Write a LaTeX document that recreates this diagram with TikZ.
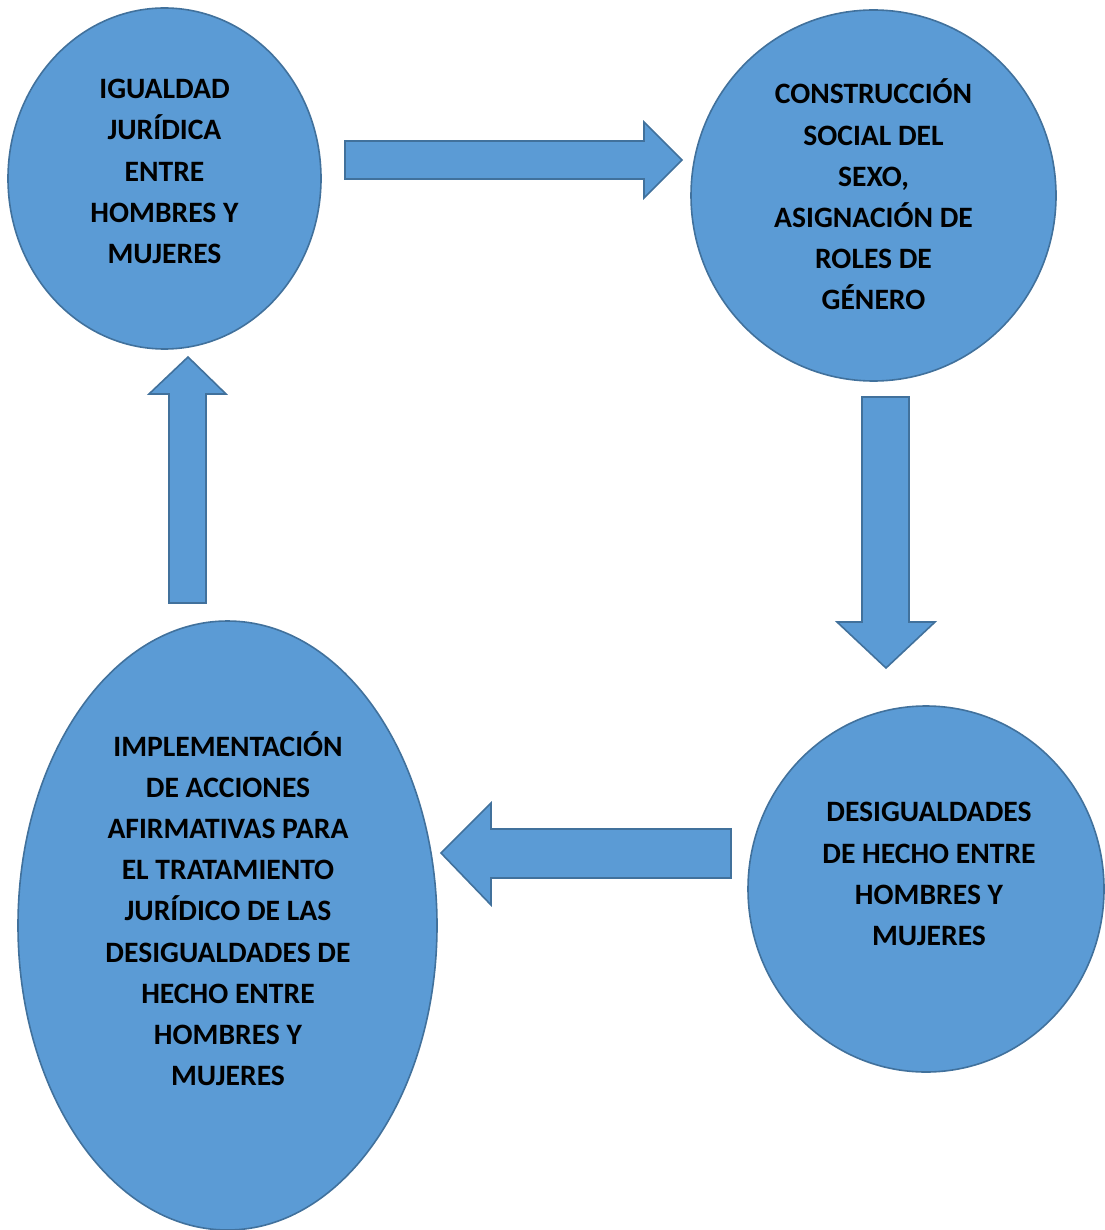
\documentclass[tikz,border=0pt]{standalone}
\usepackage{fontspec}
\setmainfont{Carlito}
\definecolor{blobfill}{HTML}{5B9BD5}
\definecolor{blobline}{HTML}{41719C}
\begin{document}
\begin{tikzpicture}[x=1pt,y=-1pt,
  blob/.style={draw=blobline,fill=blobfill,line width=1.6pt},
  blocka/.style={draw=blobline,fill=blobfill,line width=1.6pt,line join=miter},
  lbl/.style={align=center,font=\fontsize{29.6}{41.2}\selectfont\bfseries,inner sep=0pt,text=black}]
\useasboundingbox (0,0) rectangle (1104,1230);
% ellipses
\path[blob] (164.5,178.5) ellipse [x radius=156.5, y radius=170.5];
\path[blob] (873.5,195.5) ellipse [x radius=182.5, y radius=185.5];
\path[blob] (926,889) ellipse [x radius=178, y radius=183];
\path[blob] (227.5,925.5) ellipse [x radius=209.5, y radius=304.5];
% block arrows
\path[blocka] (345,141) -- (644,141) -- (644,122) -- (682,160) -- (644,198) -- (644,179) -- (345,179) -- cycle;
\path[blocka] (862,397) -- (909,397) -- (909,622) -- (935,622) -- (886,668) -- (837,622) -- (862,622) -- cycle;
\path[blocka] (731,829) -- (491,829) -- (491,803) -- (441,853) -- (491,905) -- (491,878) -- (731,878) -- cycle;
\path[blocka] (169,603) -- (169,394) -- (149,394) -- (188,357) -- (226,394) -- (206,394) -- (206,603) -- cycle;
% texts
\node[lbl] (t1) at (164.5,171.5) {IGUALDAD\\JURÍDICA\\ENTRE\\HOMBRES Y\\MUJERES};
\node[lbl] (t2) at (873.5,194.5) {CONSTRUCCIÓN\\SOCIAL DEL\\SEXO,\\ASIGNACIÓN DE\\ROLES DE\\GÉNERO};
\node[lbl] (t3) at (929,874) {DESIGUALDADES\\DE HECHO ENTRE\\HOMBRES Y\\MUJERES};
\node[lbl] (t4) at (228,908.5) {IMPLEMENTACIÓN\\DE ACCIONES\\AFIRMATIVAS PARA\\EL TRATAMIENTO\\JURÍDICO DE LAS\\DESIGUALDADES DE\\HECHO ENTRE\\HOMBRES Y\\MUJERES};
\end{tikzpicture}
\end{document}
